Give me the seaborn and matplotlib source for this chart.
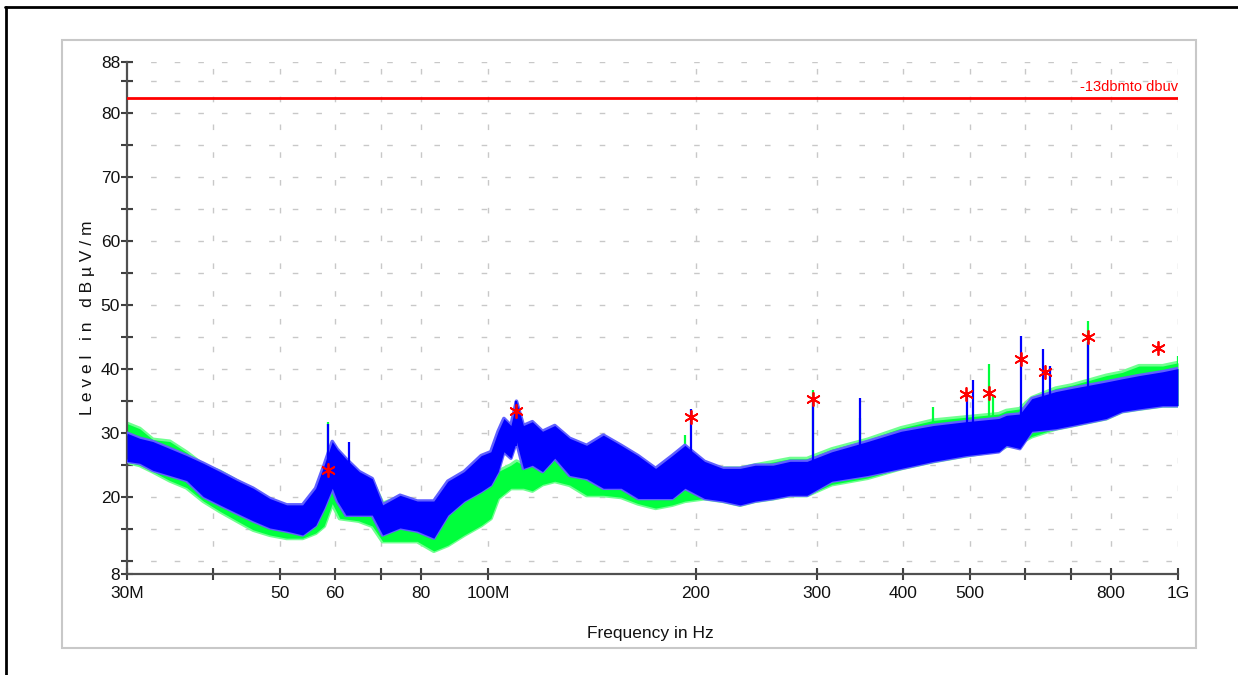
import numpy as np
import pandas as pd
import matplotlib
matplotlib.use("Agg")
import matplotlib.pyplot as plt
import seaborn as sns
from matplotlib.lines import Line2D
from matplotlib.patches import Rectangle

# ---------------- data (MHz, dBuV/m) ----------------
freq_green = [30, 31.3, 32.7, 34.6, 36.6, 38.7, 40.9, 43.3, 45.7, 48.3, 51.1, 53.9, 56.3,
              57.9, 59.5, 61, 65, 68, 70.4, 74.6, 79, 83.5, 87.5, 92.4, 97.8, 101, 103.5,
              108, 110, 112.6, 116, 120, 125, 131.4, 139, 147, 156, 165, 175, 185, 193,
              206, 219, 232, 244, 259, 274, 290, 315, 355, 397, 442, 493, 550, 564, 590,
              614, 665, 702, 787, 830, 878, 950, 1000]
green_lo = [25.5, 25.0, 24.0, 22.6, 21.5, 19.4, 17.8, 16.3, 14.9, 14.1, 13.6, 13.6, 14.4,
            15.5, 19.0, 16.7, 16.3, 15.5, 13.1, 13.1, 13.1, 11.6, 12.5, 14.1, 15.6, 16.7, 19.8,
            21.4, 21.4, 21.4, 21.0, 22.0, 22.5, 21.9, 20.3, 20.3, 20.0, 19.0, 18.3, 18.8, 19.4,
            19.8, 19.4, 18.8, 19.4, 19.8, 20.3, 20.3, 22.0, 23.0, 24.5, 25.6, 26.5, 27.3, 28.0, 28.5,
            29.5, 30.7, 31.2, 32.3, 33.4, 33.8, 34.3, 34.3]
green_hi = [31.5, 30.7, 29.0, 28.7, 27.0, 25.0, 24.0, 22.5, 21.0, 19.5, 18.5, 18.5, 20.0,
            24.0, 27.0, 25.0, 23.0, 22.5, 19.0, 20.0, 18.5, 16.0, 17.2, 19.8, 21.4, 22.9, 24.0,
            25.0, 25.6, 25.0, 26.0, 26.5, 26.5, 24.5, 24.0, 24.0, 23.5, 23.0, 22.5, 23.0, 24.0,
            25.0, 24.5, 24.5, 25.0, 25.5, 26.0, 26.0, 27.5, 29.0, 30.8, 32.0, 32.5, 33.0, 33.5, 33.8,
            35.5, 37.0, 37.5, 39.0, 39.5, 40.5, 40.5, 41.0]

freq_blue = [30, 31.3, 32.7, 34.6, 36.6, 38.7, 40.9, 43.3, 45.7, 48.3, 51.1, 53.9, 56.3,
             57.9, 59.5, 60.5, 62.3, 65.1, 68, 70.4, 74.6, 79, 83.5, 87.5, 92.4, 97.8, 101,
             103.5, 105.5, 108, 110, 112.6, 116, 120, 125, 131.4, 139, 147, 156, 165, 175,
             185, 193, 206, 219, 232, 244, 259, 274, 290, 315, 355, 397, 442, 493, 550, 564,
             590, 614, 665, 702, 787, 830, 878, 950, 1000]
blue_lo = [25.6, 25.3, 24.2, 23.4, 22.6, 20.1, 18.8, 17.5, 16.3, 15.2, 14.7, 14.1, 15.6,
           18.3, 21.4, 19.4, 17.2, 17.2, 17.2, 14.1, 15.2, 14.7, 13.6, 17.2, 19.4, 20.9, 21.9,
           24.0, 27.1, 26.1, 28.7, 24.5, 25.0, 24.0, 26.1, 23.4, 22.9, 21.4, 21.4, 19.8, 19.8,
           19.8, 21.4, 19.8, 19.4, 18.8, 19.4, 19.8, 20.3, 20.3, 22.5, 23.4, 24.5, 25.6, 26.5, 27.1, 28.1,
           27.6, 30.3, 30.7, 31.2, 32.3, 33.4, 33.8, 34.3, 34.3]
blue_hi = [30.0, 29.2, 28.7, 27.6, 26.5, 25.3, 24.0, 22.6, 21.4, 19.8, 18.8, 18.8, 21.4,
           25.0, 28.7, 27.5, 26.0, 24.0, 22.9, 18.8, 20.3, 19.4, 19.4, 22.5, 24.0, 26.5, 27.1,
           30.3, 32.3, 31.2, 35.0, 31.2, 31.8, 30.3, 31.2, 29.2, 28.1, 29.7, 28.1, 26.5, 24.5,
           26.5, 28.1, 25.6, 24.5, 24.5, 25.0, 25.0, 25.6, 25.6, 27.1, 28.7, 30.3, 31.2, 31.8, 32.3, 32.8,
           33.0, 35.4, 36.5, 37.0, 38.0, 38.5, 39.0, 39.6, 40.1]

# isolated spectral spikes: frequency, foot level, peak level
blue_spike_freq = [58.6, 62.9, 110, 197, 296, 346, 494, 505, 592, 638, 653, 741]
blue_spike_base = [22.0, 20.0, 28.0, 22.0, 22.0, 24.0, 28.0, 28.0, 30.0, 32.0, 32.0, 34.0]
blue_spike_peak = [31.5, 28.7, 35.0, 33.8, 35.4, 35.5, 36.3, 38.3, 45.2, 43.2, 40.5, 44.3]
green_spike_freq = [58.6, 193, 296, 346, 442, 533, 540, 741, 1000]
green_spike_base = [22.0, 22.0, 22.0, 25.0, 28.0, 30.0, 30.0, 34.0, 36.0]
green_spike_peak = [31.8, 29.7, 36.7, 32.3, 34.1, 40.8, 35.9, 47.5, 42.1]

# peak markers
marker_freq = [58.6, 109.7, 196.8, 295.6, 493, 533, 592, 641, 741, 936.7]
marker_level = [24.3, 33.5, 32.5, 35.4, 36.1, 36.3, 41.6, 39.6, 45.1, 43.3]

limit_level = 82.3
limit_label = "-13dbmto dbuv"

x_ticks = [30, 40, 50, 60, 70, 80, 100, 200, 300, 400, 500, 600, 700, 800, 1000]
x_tick_labels = ["30M", "", "50", "60", "", "80", "100M", "200", "300", "400", "500", "", "", "800", "1G"]
y_ticks = [8, 20, 30, 40, 50, 60, 70, 80, 88]
y_minor = [10, 15, 25, 35, 45, 55, 65, 75, 85]
grid_y = [10, 15, 20, 25, 30, 35, 40, 45, 50, 55, 60, 65, 70, 75, 80, 85, 88]
grid_x = [40, 50, 60, 70, 80, 100, 200, 300, 400, 500, 600, 700, 800, 1000]

# ---------------- style ----------------
sns.set_style("white")
narrow = ["Liberation Sans Narrow", "Liberation Sans", "DejaVu Sans"]
plt.rcParams["font.family"] = narrow

W, H = 1238, 675
fig = plt.figure(figsize=(W / 100, H / 100), dpi=100)
ax = fig.add_axes([127 / W, 1 - 574 / H, (1178 - 127) / W, (574 - 62) / H])
ax.set_facecolor("white")

# grid
ax.hlines(grid_y, 30, 1000, colors="#c8c8c8", linestyles=(0, (4, 13)), linewidth=1.0, zorder=0)
ax.vlines(grid_x, 8, 88, colors="#c8c8c8", linestyles=(0, (4, 16)), linewidth=1.0, zorder=0)

green_c = "#00ff3c"
blue_c = "#0000ff"
blue_soft = "#6060ff"
green_soft = "#70ff90"

dg = pd.DataFrame({"f": freq_green, "lo": green_lo, "hi": green_hi})
db = pd.DataFrame({"f": freq_blue, "lo": blue_lo, "hi": blue_hi})

sns.lineplot(data=dg, x="f", y="hi", ax=ax, color=green_soft, linewidth=3.0, zorder=2)
sns.lineplot(data=dg, x="f", y="lo", ax=ax, color=green_soft, linewidth=3.0, zorder=2)
ax.fill_between(dg["f"], dg["lo"], dg["hi"], color=green_c, linewidth=0, zorder=2)
ax.vlines(green_spike_freq, green_spike_base, green_spike_peak, colors=green_c, linewidth=1.6, zorder=2)

sns.lineplot(data=db, x="f", y="hi", ax=ax, color=blue_soft, linewidth=2.6, zorder=3)
sns.lineplot(data=db, x="f", y="lo", ax=ax, color=blue_soft, linewidth=2.6, zorder=3)
ax.fill_between(db["f"], db["lo"], db["hi"], color=blue_c, linewidth=0, zorder=3)
ax.vlines(blue_spike_freq, blue_spike_base, blue_spike_peak, colors=blue_c, linewidth=1.6, zorder=3)

# limit line
ax.axhline(limit_level, color="#ff0000", linewidth=2.0, zorder=4)
ax.text(1000, limit_level + 0.7, limit_label, ha="right", va="bottom", color="#ff0000",
        fontsize=10.5, family=narrow, zorder=5)

# peak markers
sns.scatterplot(x=marker_freq, y=marker_level, ax=ax, marker=(6, 2, 0), s=90,
                color="#ff0000", edgecolor="#ff0000", linewidth=1.3, zorder=6)

ax.set_xscale("log")
ax.set_xlim(30, 1000)
ax.set_ylim(8, 88)
ax.set_xticks(x_ticks)
ax.set_xticklabels(x_tick_labels)
ax.xaxis.set_minor_locator(matplotlib.ticker.NullLocator())
ax.set_yticks(y_ticks)
ax.set_yticklabels([str(v) for v in y_ticks])
ax.set_yticks(y_minor, minor=True)

ax.tick_params(axis="both", which="major", direction="inout", length=8, width=1.5,
               color="#404040", labelsize=12.5, labelcolor="#111111", bottom=True, left=True)
ax.tick_params(axis="x", which="major", pad=5)
ax.tick_params(axis="y", which="major", pad=1)
ax.tick_params(axis="y", which="minor", direction="inout", length=8, width=1.5,
               color="#404040", left=True)

for s in ["top", "right"]:
    ax.spines[s].set_visible(False)
for s in ["left", "bottom"]:
    ax.spines[s].set_visible(True)
    ax.spines[s].set_color("#505050")
    ax.spines[s].set_linewidth(1.6)

ax.set_xlabel("Frequency in Hz", fontsize=12.5, color="#111111")
ax.set_ylabel("L e v e l   i n   d B µ V / m", fontsize=12.5, color="#111111")
ax.xaxis.set_label_coords((650 - 127) / (1178 - 127), -(626 - 574) / (574 - 62))
ax.yaxis.set_label_coords(-(127 - 95) / (1178 - 127), (574 - 318) / (574 - 62))

# panel border and outer frame
fig.add_artist(Rectangle((62 / W, 1 - 648 / H), (1196 - 62) / W, (648 - 40) / H,
                         transform=fig.transFigure, fill=False, edgecolor="#c8c8c8", linewidth=1.5))
fig.add_artist(Line2D([5 / W, 1], [1 - 7 / H, 1 - 7 / H], transform=fig.transFigure,
                      color="black", linewidth=2.0))
fig.add_artist(Line2D([6 / W, 6 / W], [0, 1 - 7 / H], transform=fig.transFigure,
                      color="black", linewidth=2.0))

fig.savefig("out.png", dpi=100, facecolor="white")
